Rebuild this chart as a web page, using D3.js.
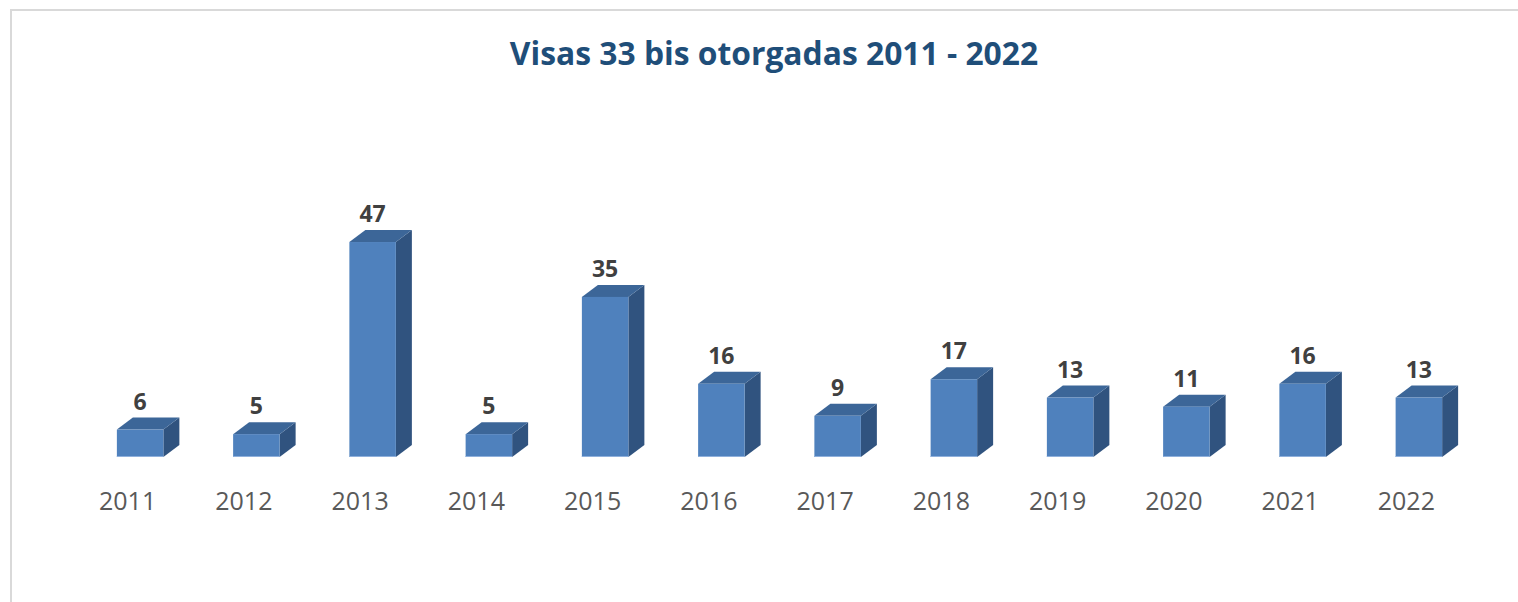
<!DOCTYPE html>
<html>
<head>
<meta charset="utf-8">
<script src="https://cdn.jsdelivr.net/npm/d3@7"></script>
<style>
  html, body { margin: 0; padding: 0; background: #ffffff; }
  svg { display: block; }
</style>
</head>
<body>
<svg id="chart" width="1518" height="602"></svg>
<script>
const years = ["2011","2012","2013","2014","2015","2016","2017","2018","2019","2020","2021","2022"];
const visas = [6, 5, 47, 5, 35, 16, 9, 17, 13, 11, 16, 13];
const titleText = "Visas 33 bis otorgadas 2011 - 2022";

const data = years.map((y, i) => ({ year: y, value: visas[i] }));

const svg = d3.select("#chart");
const W = 1518, H = 602;

// chart border (top and left visible)
svg.append("line").attr("x1", 10).attr("x2", W).attr("y1", 10).attr("y2", 10)
  .attr("stroke", "#d9d9d9").attr("stroke-width", 2);
svg.append("line").attr("x1", 11).attr("x2", 11).attr("y1", 10).attr("y2", H)
  .attr("stroke", "#d9d9d9").attr("stroke-width", 2);

// title
svg.append("text")
  .attr("x", 774).attr("y", 64.5)
  .attr("text-anchor", "middle")
  .attr("font-family", "'Open Sans', 'Noto Sans', sans-serif")
  .attr("font-weight", "bold")
  .attr("font-size", 31.8)
  .attr("fill", "#1f4e79")
  .text(titleText);

const baseY = 457;
const x = d3.scaleBand().domain(years).range([82, 1477]).paddingInner(0.6).paddingOuter(0.3);
const y = d3.scaleLinear().domain([0, 50]).range([baseY, baseY - 50 * 4.574]);

const dx = 16, dy = 12;
const frontColor = "#4f81bd", topColor = "#3c6698", sideColor = "#30537f";

const g = svg.append("g");
const bars = g.selectAll("g.bar").data(data).join("g").attr("class", "bar");

bars.each(function(d) {
  const s = d3.select(this);
  const x0 = x(d.year), w = x.bandwidth();
  const y0 = y(d.value), y1 = y(0);
  s.append("path")
    .attr("d", `M${x0 + w},${y0} L${x0 + w + dx},${y0 - dy} L${x0 + w + dx},${y1 - dy} L${x0 + w},${y1} Z`)
    .attr("fill", sideColor);
  s.append("path")
    .attr("d", `M${x0},${y0} L${x0 + dx},${y0 - dy} L${x0 + w + dx},${y0 - dy} L${x0 + w},${y0} Z`)
    .attr("fill", topColor);
  s.append("rect")
    .attr("x", x0).attr("y", y0).attr("width", w).attr("height", y1 - y0)
    .attr("fill", frontColor);
  s.append("line")
    .attr("x1", x0).attr("x2", x0 + w).attr("y1", y1 - 0.5).attr("y2", y1 - 0.5)
    .attr("stroke", "#8fb0dc").attr("stroke-width", 1);
  s.append("text")
    .attr("x", x0 + w / 2).attr("y", y0 - 20)
    .attr("text-anchor", "middle")
    .attr("font-family", "'Open Sans', 'Noto Sans', sans-serif")
    .attr("font-weight", "bold")
    .attr("font-size", 23)
    .attr("fill", "#404040")
    .text(d.value);
});

const axis = d3.axisBottom(x).tickSize(0).tickPadding(0);
const ax = svg.append("g").attr("transform", `translate(-12.5, 510)`).call(axis);
ax.select(".domain").remove();
ax.selectAll("text")
  .attr("dy", 0)
  .attr("y", 0)
  .attr("font-family", "'Open Sans', 'Noto Sans', sans-serif")
  .attr("font-size", 25)
  .attr("fill", "#595959");
</script>
</body>
</html>
